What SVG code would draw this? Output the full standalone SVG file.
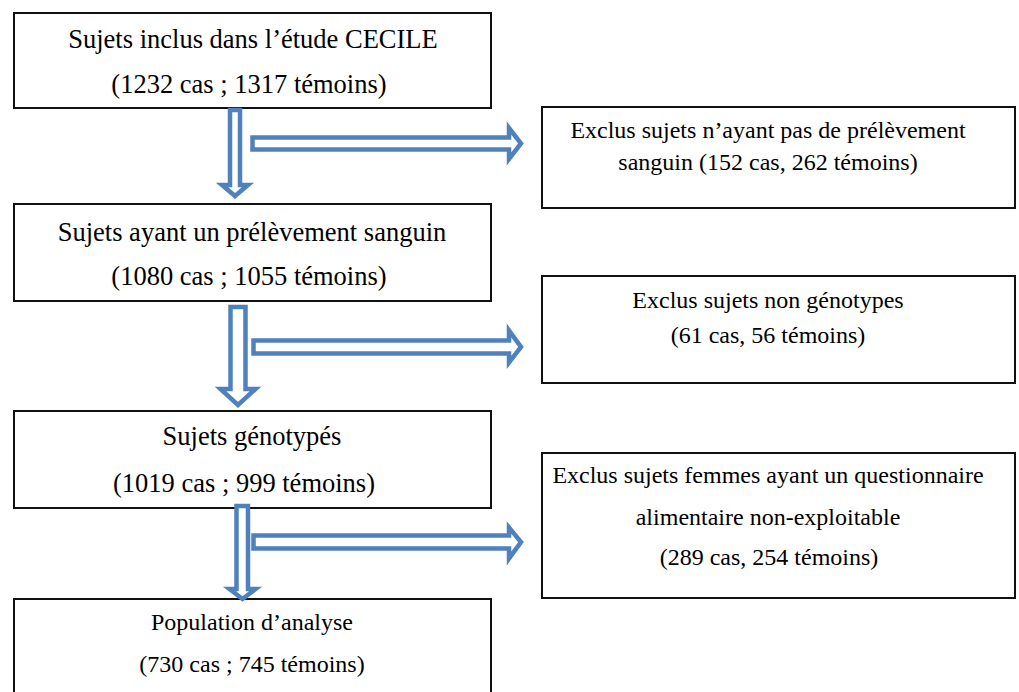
<svg xmlns="http://www.w3.org/2000/svg" width="1019" height="692" viewBox="0 0 1019 692">
<style>
.box{fill:#fff;stroke:#111;stroke-width:2}
.t{font-family:"Liberation Serif","Times New Roman",serif;fill:#000;text-anchor:middle}
.l{font-size:26.5px}
.s{font-size:24px}
.arr{fill:#fff;stroke:#4F81BD;stroke-width:4.5;stroke-linejoin:miter}
</style>
<rect width="1019" height="692" fill="#fff"/>
<g id="n1">
<rect class="box" x="14" y="13" width="477" height="95"/>
<text class="t l" x="253" y="48">Sujets inclus dans l’étude CECILE</text>
<text class="t l" x="249" y="93">(1232 cas ; 1317 témoins)</text>
</g>
<g id="n2">
<rect class="box" x="14" y="204" width="477" height="97"/>
<text class="t l" x="252" y="241">Sujets ayant un prélèvement sanguin</text>
<text class="t l" x="249" y="285">(1080 cas ; 1055 témoins)</text>
</g>
<g id="n3">
<rect class="box" x="14" y="411" width="477" height="97"/>
<text class="t l" x="252" y="445">Sujets génotypés</text>
<text class="t l" x="244" y="492">(1019 cas ; 999 témoins)</text>
</g>
<g id="n4">
<rect class="box" x="14" y="599" width="477" height="110"/>
<text class="t s" x="252" y="630">Population d’analyse</text>
<text class="t s" x="252" y="672">(730 cas ; 745 témoins)</text>
</g>
<g id="e1">
<rect class="box" x="542" y="107" width="473" height="101"/>
<text class="t s" x="768" y="138">Exclus sujets n’ayant pas de prélèvement</text>
<text class="t s" x="768" y="170">sanguin (152 cas, 262 témoins)</text>
</g>
<g id="e2">
<rect class="box" x="542" y="276" width="473" height="107"/>
<text class="t s" x="768" y="308">Exclus sujets non génotypes</text>
<text class="t s" x="768" y="343">(61 cas, 56 témoins)</text>
</g>
<g id="e3">
<rect class="box" x="542" y="453" width="473" height="145"/>
<text class="t s" x="768" y="483">Exclus sujets femmes ayant un questionnaire</text>
<text class="t s" x="768" y="525">alimentaire non-exploitable</text>
<text class="t s" x="769" y="565">(289 cas, 254 témoins)</text>
</g>
<g id="connectors">
<path class="arr" d="M230,110 H240 V185 H248 L235,196 L222,185 H230 Z"/>
<path class="arr" d="M252.5,137.5 H509 V128 L521,143.5 L509,159 V149.5 H252.5 Z"/>
<path class="arr" d="M230.5,307 H245.5 V389 H255.5 L238,405 L220.5,389 H230.5 Z"/>
<path class="arr" d="M253.5,340.5 H509 V330.5 L521,347 L509,362.5 V353.5 H253.5 Z"/>
<path class="arr" d="M236.5,506 H248 V589 H255.5 L242.5,599 L229.5,589 H236.5 Z"/>
<path class="arr" d="M253.5,535.5 H509 V527.5 L521,542 L509,558.5 V548.5 H253.5 Z"/>
</g>
</svg>
